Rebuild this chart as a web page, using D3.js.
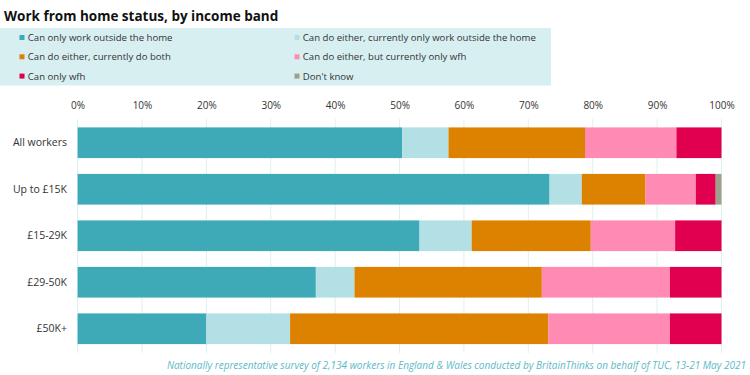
<!DOCTYPE html>
<html>
<head>
<meta charset="utf-8">
<script src="https://d3js.org/d3.v7.min.js"></script>
<style>
    body { margin: 0; background: #fff; font-family: "Open Sans", sans-serif; }
    svg { display: block; }
</style>
</head>
<body>
<script>
// Income bands and the share (%) in each work-from-home status
const categories = ['All workers', 'Up to £15K', '£15-29K', '£29-50K', '£50K+'];
const seriesNames = [
    'Can only work outside the home',
    'Can do either, currently only work outside the home',
    'Can do either, currently do both',
    'Can do either, but currently only wfh',
    'Can only wfh',
    "Don't know"
];
const seriesColors = ['#3faab7', '#b2e0e5', '#dd8100', '#ff8bb5', '#e0004f', '#9da08a'];
const onlyOutside   = [50.4, 73.3, 53.1, 37.0, 20.0];
const eitherOutside = [7.2, 5.0, 8.1, 6.0, 13.0];
const eitherBoth    = [21.2, 9.9, 18.5, 29.1, 40.1];
const eitherWfh     = [14.2, 7.8, 13.1, 19.9, 18.9];
const onlyWfh       = [7.0, 3.1, 7.2, 8.0, 8.0];
const dontKnow      = [0.0, 0.9, 0.0, 0.0, 0.0];
const tickValues = [0, 10, 20, 30, 40, 50, 60, 70, 80, 90, 100];

const W = 750, H = 375;
const svg = d3.select('body').append('svg').attr('width', W).attr('height', H);

// title
svg.append('text')
    .attr('x', 4).attr('y', 20.5)
    .attr('font-size', 13.5).attr('font-weight', 700).attr('fill', '#111')
    .text('Work from home status, by income band');

// legend
const legend = svg.append('g');
legend.append('rect')
    .attr('x', 0).attr('y', 28).attr('width', 551).attr('height', 57.5)
    .attr('fill', '#d7eff1');
seriesNames.forEach((name, i) => {
    const col = i % 2, row = Math.floor(i / 2);
    const gx = col === 0 ? 19.5 : 294.5;
    const gy = 37.5 + row * 19.3;
    legend.append('rect')
        .attr('x', gx).attr('y', gy - 2.5).attr('width', 5).attr('height', 5)
        .attr('fill', seriesColors[i]);
    legend.append('text')
        .attr('x', gx + 8.3).attr('y', gy + 3.4)
        .attr('font-size', 9.6).attr('fill', '#333')
        .text(name);
});

// chart
const x = d3.scaleLinear().domain([0, 100]).range([77.6, 721.5]);
const y = d3.scaleBand().domain(categories).range([119.5, 352]).paddingInner(0.34).paddingOuter(0.17);

// gridlines
svg.append('g').selectAll('line')
    .data(tickValues)
    .join('line')
    .attr('x1', d => x(d)).attr('x2', d => x(d))
    .attr('y1', 119).attr('y2', 353)
    .attr('stroke', '#dcf0f4').attr('stroke-width', 1);

// top axis labels
const axis = svg.append('g')
    .attr('transform', 'translate(0,109)')
    .call(d3.axisTop(x).tickValues(tickValues).tickFormat(d => d + '%').tickSize(0).tickPadding(0));
axis.select('.domain').remove();
axis.selectAll('text')
    .attr('font-size', 10).attr('fill', '#333').attr('font-family', '"Open Sans", sans-serif');

// category labels
const yAxis = svg.append('g')
    .attr('transform', 'translate(67,0)')
    .call(d3.axisLeft(y).tickSize(0).tickPadding(0));
yAxis.select('.domain').remove();
yAxis.selectAll('text')
    .attr('font-size', 10.5).attr('fill', '#333').attr('font-family', '"Open Sans", sans-serif');

// stacked bars
const seriesValues = [onlyOutside, eitherOutside, eitherBoth, eitherWfh, onlyWfh, dontKnow];
const rows = categories.map((c, ci) => {
    const r = { category: c };
    seriesNames.forEach((s, si) => { r[s] = seriesValues[si][ci]; });
    return r;
});
const stacked = d3.stack().keys(seriesNames)(rows);

svg.append('g').selectAll('g')
    .data(stacked)
    .join('g')
    .attr('fill', (d, i) => seriesColors[i])
    .selectAll('rect')
    .data(d => d)
    .join('rect')
    .attr('x', d => x(d[0]))
    .attr('width', d => Math.max(0, x(d[1]) - x(d[0])))
    .attr('y', d => y(d.data.category))
    .attr('height', y.bandwidth());

// footnote
svg.append('text')
    .attr('x', 746).attr('y', 369)
    .attr('text-anchor', 'end')
    .attr('font-size', 10).attr('font-style', 'italic').attr('fill', '#5bbac8')
    .text('Nationally representative survey of 2,134 workers in England & Wales conducted by BritainThinks on behalf of TUC, 13-21 May 2021');
</script>
</body>
</html>
